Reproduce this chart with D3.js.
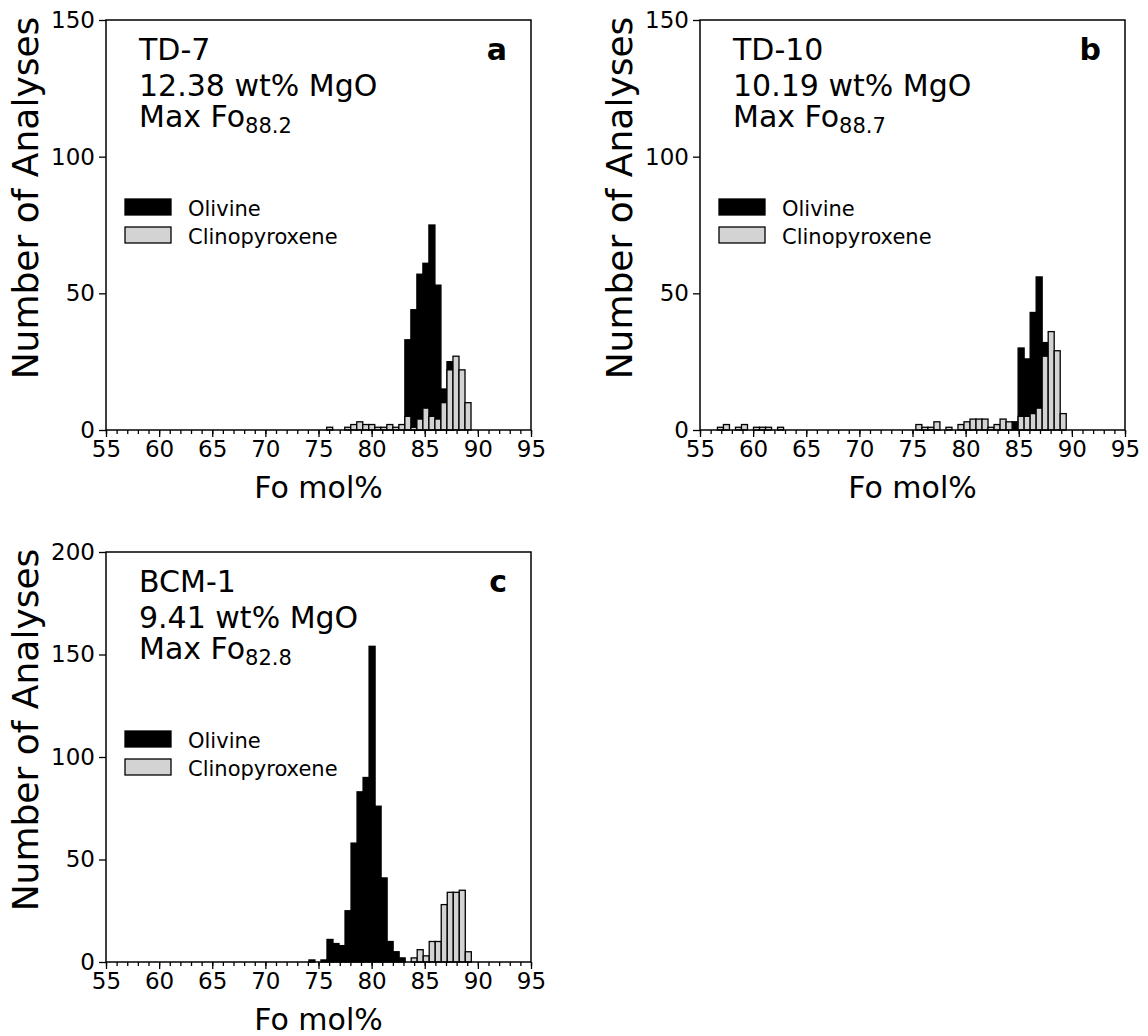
<!DOCTYPE html>
<html>
<head>
<meta charset="utf-8">
<script src="https://cdn.jsdelivr.net/npm/d3@7"></script>
<style>
    body { margin: 0; background: #fff; }
    svg { font-family: "DejaVu Sans", sans-serif; }
</style>
</head>
<body>
<div id="chart"></div>
<script>
// histogram counts per bin
var seriesNames = ["Olivine", "Clinopyroxene"];
var xTicks = [55, 60, 65, 70, 75, 80, 85, 90, 95];

var binStartA = 75.77, binWidthA = 0.566;
var olivineA = [0, 0, 0, 0, 0, 0, 0, 0, 0, 0, 0, 0, 0, 33, 44, 57, 61, 75, 53, 15, 25, 0, 0, 0];
var cpxA = [1, 0, 0, 1, 2, 3, 2, 2, 1, 1, 2, 1, 2, 5, 1, 4, 8, 5, 4, 10, 22, 27, 22, 10];

var binStartB = 56.64, binWidthB = 0.566;
var olivineB = [0, 0, 0, 0, 0, 0, 0, 0, 0, 0, 0, 0, 0, 0, 0, 0, 0, 0, 0, 0,
    0, 0, 0, 0, 0, 0, 0, 0, 0, 0, 0, 0, 0, 0, 0, 0, 0, 0, 0, 0,
    0, 0, 0, 0, 0, 0, 0, 0, 0, 3, 30, 26, 43, 56, 32, 0, 0, 0];
var cpxB = [1, 2, 0, 1, 2, 0, 1, 1, 1, 0, 1, 0, 0, 0, 0, 0, 0, 0, 0, 0,
    0, 0, 0, 0, 0, 0, 0, 0, 0, 0, 0, 0, 0, 2, 1, 1, 3, 0, 1, 0,
    2, 3, 4, 4, 4, 1, 2, 4, 3, 0, 5, 5, 6, 8, 27, 36, 29, 6];

var binStartC = 74.1, binWidthC = 0.566;
var olivineC = [1, 0, 1, 11, 9, 8, 25, 58, 83, 90, 154, 76, 41, 10, 5, 2, 0, 0, 0, 0, 0, 0, 0, 0, 0, 0, 0];
var cpxC = [0, 0, 0, 0, 0, 0, 0, 0, 0, 0, 0, 0, 0, 0, 0, 0, 0, 2, 6, 3, 10, 10, 28, 34, 34, 35, 5];

var panels = [
    { letter: "a", sample: "TD-7", mgo: "12.38 wt% MgO", maxFo: "88.2", yTicks: [0, 50, 100, 150],
      start: binStartA, width: binWidthA, ol: olivineA, cpx: cpxA, left: 106, top: 20 },
    { letter: "b", sample: "TD-10", mgo: "10.19 wt% MgO", maxFo: "88.7", yTicks: [0, 50, 100, 150],
      start: binStartB, width: binWidthB, ol: olivineB, cpx: cpxB, left: 700, top: 20 },
    { letter: "c", sample: "BCM-1", mgo: "9.41 wt% MgO", maxFo: "82.8", yTicks: [0, 50, 100, 150, 200],
      start: binStartC, width: binWidthC, ol: olivineC, cpx: cpxC, left: 106, top: 552 }
];

function init() {
    var w = 1148;
    var h = 1036;
    var pw = 425;
    var ph = 410;
    var colors = ["#000000", "#d3d3d3"];

    var svg = d3.select("#chart")
        .append("svg")
        .attr("width", w)
        .attr("height", h);

    panels.forEach(function (p) {
        var g = svg.append("g")
            .attr("transform", `translate(${p.left},${p.top})`);

        var xScale = d3.scaleLinear().domain([55, 95]).range([0, pw]);
        var yScale = d3.scaleLinear()
            .domain([0, d3.max(p.yTicks)])
            .range([ph, 0]);

        // bars: olivine first, cpx drawn over it
        [p.ol, p.cpx].forEach(function (counts, s) {
            g.append("g")
                .selectAll("rect")
                .data(counts)
                .enter()
                .append("rect")
                .attr("x", function (d, i) { return xScale(p.start + i * p.width); })
                .attr("width", function (d, i) {
                    return xScale(p.start + (i + 1) * p.width) - xScale(p.start + i * p.width);
                })
                .attr("y", function (d) { return yScale(d); })
                .attr("height", function (d) { return ph - yScale(d); })
                .attr("fill", colors[s])
                .attr("stroke", "#000")
                .attr("stroke-width", 1.3);
        });

        // axes
        var xAxis = d3.axisBottom(xScale).tickValues(xTicks).tickSize(7).tickPadding(4);
        var xMinor = d3.axisBottom(xScale).ticks(40).tickSize(4).tickFormat("");
        var yAxis = d3.axisLeft(yScale).tickValues(p.yTicks).tickSize(7).tickPadding(4);

        g.append("g").attr("class", "minor")
            .attr("transform", `translate(0,${ph})`)
            .call(xMinor);
        g.append("g").attr("class", "xaxis")
            .attr("transform", `translate(0,${ph})`)
            .call(xAxis);
        g.append("g").attr("class", "yaxis")
            .call(yAxis);

        g.selectAll(".domain").remove();
        g.selectAll(".tick line").attr("stroke", "#000").attr("stroke-width", 1.3);
        g.selectAll(".xaxis text, .yaxis text")
            .attr("font-size", 23)
            .attr("font-family", "DejaVu Sans")
            .attr("fill", "#000");

        g.append("rect")
            .attr("width", pw)
            .attr("height", ph)
            .attr("fill", "none")
            .attr("stroke", "#000")
            .attr("stroke-width", 1.5);

        // axis titles
        g.append("text")
            .attr("x", pw / 2)
            .attr("y", ph + 68)
            .attr("text-anchor", "middle")
            .attr("font-size", 30)
            .text("Fo mol%");

        g.append("text")
            .attr("transform", `translate(-68,${ph / 2 - 27}) rotate(-90)`)
            .attr("text-anchor", "middle")
            .attr("font-size", 36)
            .text("Number of Analyses");

        // annotation block
        g.append("text").attr("x", 33).attr("y", 40).attr("font-size", 30).text(p.sample);
        g.append("text").attr("x", 33).attr("y", 76).attr("font-size", 30).text(p.mgo);
        var mx = g.append("text").attr("x", 33).attr("y", 107).attr("font-size", 30);
        mx.append("tspan").text("Max Fo");
        mx.append("tspan").attr("font-size", 21).attr("dy", 6).text(p.maxFo);

        g.append("text")
            .attr("x", pw - 24)
            .attr("y", 40)
            .attr("text-anchor", "end")
            .attr("font-size", 30)
            .attr("font-weight", "bold")
            .text(p.letter);

        // legend
        seriesNames.forEach(function (name, s) {
            g.append("rect")
                .attr("x", 19)
                .attr("y", 179 + s * 28)
                .attr("width", 46)
                .attr("height", 16)
                .attr("fill", colors[s])
                .attr("stroke", "#000")
                .attr("stroke-width", 1.3);
            g.append("text")
                .attr("x", 82)
                .attr("y", 196 + s * 28)
                .attr("font-size", 21)
                .text(name);
        });
    });
}

window.onload = init;
</script>
</body>
</html>
